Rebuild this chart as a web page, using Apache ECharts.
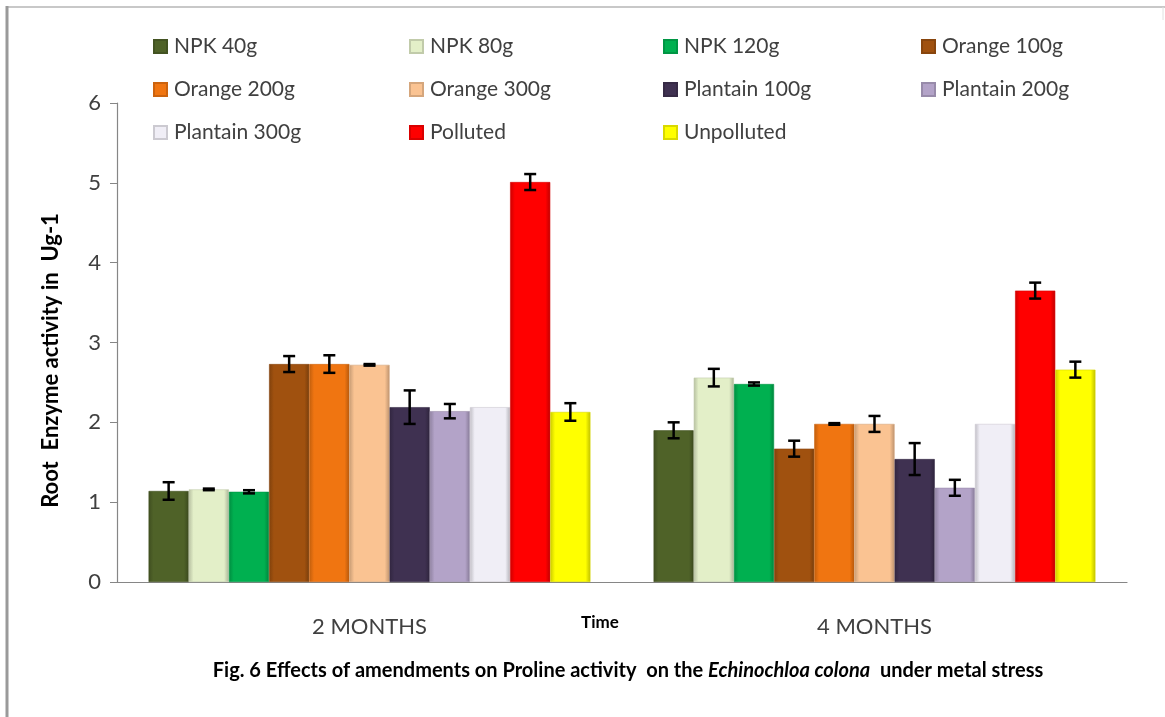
<!DOCTYPE html>
<html>
<head>
<meta charset="utf-8">
<script src="https://cdn.jsdelivr.net/npm/echarts@6/dist/echarts.min.js"></script>
<style>html,body{margin:0;padding:0;background:#fff}#c{width:1165px;height:717px}</style>
</head>
<body>
<div id="c"></div>
<script>
// ---- data ----
const categories = ['2 MONTHS', '4 MONTHS'];
const seriesNames = ['NPK 40g','NPK 80g','NPK 120g','Orange 100g','Orange 200g','Orange 300g','Plantain 100g','Plantain 200g','Plantain 300g','Polluted','Unpolluted'];
const values2M = [1.14, 1.16, 1.13, 2.73, 2.73, 2.72, 2.19, 2.14, 2.19, 5.01, 2.13];
const values4M = [1.90, 2.56, 2.48, 1.67, 1.98, 1.98, 1.54, 1.18, 1.98, 3.65, 2.66];
const err2M = [0.11, 0.01, 0.02, 0.10, 0.11, 0.01, 0.21, 0.09, 0, 0.10, 0.11];
const err4M = [0.10, 0.11, 0.02, 0.10, 0.01, 0.10, 0.20, 0.10, 0, 0.10, 0.10];
const yTicks = [0, 1, 2, 3, 4, 5, 6];
const colors = ['#4f6228','#e3efc8','#00b050','#a0510f','#f07511','#fac392','#3f3151','#b3a3c8','#f0eef6','#ff0000','#ffff00'];

function shade(hex, f) {
  const n = parseInt(hex.slice(1), 16);
  let r = (n >> 16) & 255, g = (n >> 8) & 255, b = n & 255;
  r = Math.round(r * f); g = Math.round(g * f); b = Math.round(b * f);
  return 'rgb(' + Math.min(255,r) + ',' + Math.min(255,g) + ',' + Math.min(255,b) + ')';
}
function barGrad(c) {
  return new echarts.graphic.LinearGradient(0, 0, 1, 0, [
    {offset: 0, color: shade(c, 0.8)},
    {offset: 0.12, color: c},
    {offset: 0.88, color: c},
    {offset: 1, color: shade(c, 0.75)}
  ]);
}

const N = seriesNames.length;
const catGapRatio = 0.125;
const FONT = 'Lato, "DejaVu Sans", sans-serif';

const barSeries = seriesNames.map((name, i) => ({
  name: name,
  type: 'bar',
  barGap: '0%',
  barCategoryGap: (catGapRatio * 100) + '%',
  data: [values2M[i], values4M[i]],
  itemStyle: { color: barGrad(colors[i]), borderColor: shade(colors[i], 0.85), borderWidth: 0.6 },
  emphasis: { disabled: true }
}));

const errData = [];
seriesNames.forEach((n, i) => {
  if (err2M[i] > 0) errData.push([0, i, values2M[i], err2M[i]]);
  if (err4M[i] > 0) errData.push([1, i, values4M[i], err4M[i]]);
});

const errSeries = {
  type: 'custom',
  name: 'err',
  z: 10,
  data: errData,
  encode: { x: 0, y: 2 },
  renderItem: function (params, api) {
    const cat = api.value(0), s = api.value(1), v = api.value(2), e = api.value(3);
    const band = api.size([1, 0])[0];
    const bw = band * (1 - catGapRatio) / N;
    const cx = api.coord([cat, v])[0] - band * (1 - catGapRatio) / 2 + bw * (s + 0.5);
    const yT = api.coord([cat, v + e])[1];
    const yB = api.coord([cat, v - e])[1];
    const hw = 6;
    const st = { stroke: '#000', lineWidth: 2.5 };
    return {
      type: 'group',
      children: [
        { type: 'line', shape: { x1: cx, y1: yT, x2: cx, y2: yB }, style: st },
        { type: 'line', shape: { x1: cx - hw, y1: yT, x2: cx + hw, y2: yT }, style: st },
        { type: 'line', shape: { x1: cx - hw, y1: yB, x2: cx + hw, y2: yB }, style: st }
      ]
    };
  }
};

const legendCols = [
  { left: 148, names: [seriesNames[0], seriesNames[4], seriesNames[8]] },
  { left: 404, names: [seriesNames[1], seriesNames[5], seriesNames[9]] },
  { left: 658, names: [seriesNames[2], seriesNames[6], seriesNames[10]] },
  { left: 916, names: [seriesNames[3], seriesNames[7]] }
];
const legends = legendCols.map(c => ({
  orient: 'vertical',
  left: c.left,
  top: 31,
  itemWidth: 13,
  itemHeight: 13,
  itemGap: 22,
  icon: 'rect',
  selectedMode: false,
  data: c.names.map(n => ({ name: n, itemStyle: { color: barGrad(colors[seriesNames.indexOf(n)]) } })),
  textStyle: { fontFamily: FONT, fontSize: 21, color: '#404040', padding: [0, 0, 0, 2] }
}));

const option = {
  animation: false,
  backgroundColor: '#fff',
  legend: legends,
  grid: { left: 117, right: 38, top: 103, bottom: 135, containLabel: false },
  xAxis: {
    type: 'category',
    data: categories,
    axisLine: { lineStyle: { color: '#868686', width: 1.2 } },
    axisTick: { show: false },
    axisLabel: { fontFamily: FONT, fontSize: 22, color: '#404040', margin: 34 }
  },
  yAxis: {
    type: 'value',
    min: yTicks[0],
    max: yTicks[yTicks.length - 1],
    interval: 1,
    name: 'Root  Enzyme activity in  Ug-1',
    nameLocation: 'middle',
    nameGap: 55,
    nameRotate: 90,
    nameMoveOverlap: false,
    nameTextStyle: { fontFamily: FONT, fontSize: 22, fontWeight: 'bold', color: '#000', padding: [0, 0, 0, -36] },
    axisLine: { show: true, lineStyle: { color: '#868686', width: 1.2 } },
    axisTick: { show: true, length: 7, lineStyle: { color: '#868686' } },
    splitLine: { show: false },
    axisLabel: { fontFamily: FONT, fontSize: 22, color: '#404040', margin: 16 }
  },
  graphic: [
    { type: 'line', shape: { x1: 7, y1: 7, x2: 1165, y2: 7 }, style: { stroke: '#c8c8c8', lineWidth: 2 } },
    { type: 'line', shape: { x1: 7, y1: 6, x2: 7, y2: 717 }, style: { stroke: '#9a9a9a', lineWidth: 3 } },
    { type: 'line', shape: { x1: 1163, y1: 7, x2: 1163, y2: 20 }, style: { stroke: '#e0e0e0', lineWidth: 1 } },
    {
      type: 'text', x: 600, y: 623,
      style: { text: 'Time', fontFamily: FONT, fontSize: 17, fontWeight: 'bold', fill: '#000', align: 'center', verticalAlign: 'middle' }
    },
    {
      type: 'text', x: 628, y: 671,
      style: {
        text: '{b|Fig. 6 Effects of amendments on Proline activity  on the }{i|Echinochloa colona}{b|  under metal stress}',
        align: 'center', verticalAlign: 'middle',
        rich: {
          b: { fontFamily: FONT, fontSize: 20, fontWeight: 'bold', fill: '#000' },
          i: { fontFamily: FONT, fontSize: 20, fontWeight: 'bold', fontStyle: 'italic', fill: '#000' }
        }
      }
    }
  ],
  series: barSeries.concat([errSeries])
};

const chart = echarts.init(document.getElementById('c'));
chart.setOption(option);
</script>
</body>
</html>
